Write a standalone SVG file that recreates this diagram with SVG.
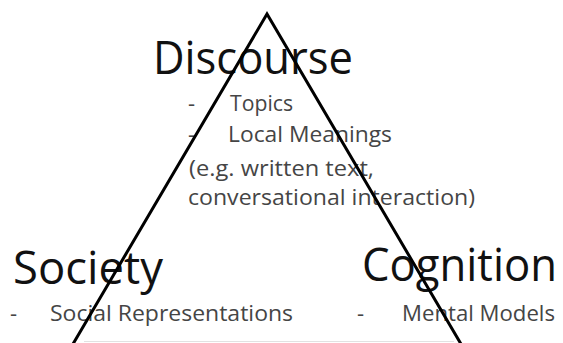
<svg xmlns="http://www.w3.org/2000/svg" width="563" height="343" viewBox="0 0 563 343">
  <style>
    .title { font-family: "Open Sans", "Noto Sans", "Liberation Sans", sans-serif; font-size: 45px; fill: #111; }
    .item { font-family: "Open Sans", "Noto Sans", "Liberation Sans", sans-serif; font-size: 22px; fill: #454545; }
    .edge { fill: none; stroke: #000; stroke-width: 3; stroke-linejoin: miter; }
  </style>
  <rect width="563" height="343" fill="#fff"/>

  <g id="discourse">
    <text class="title" x="153" y="74" textLength="200" lengthAdjust="spacingAndGlyphs">Discourse</text>
    <text class="item" x="188" y="111">-</text>
    <text class="item" x="230" y="111" textLength="63" lengthAdjust="spacingAndGlyphs">Topics</text>
    <text class="item" x="188" y="142">-</text>
    <text class="item" x="228" y="142" textLength="164" lengthAdjust="spacingAndGlyphs">Local Meanings</text>
    <text class="item" x="189" y="176" textLength="185" lengthAdjust="spacingAndGlyphs">(e.g. written text,</text>
    <text class="item" x="188" y="205" textLength="287" lengthAdjust="spacingAndGlyphs">conversational interaction)</text>
  </g>

  <g id="society">
    <text class="title" x="13" y="284" textLength="150" lengthAdjust="spacingAndGlyphs">Society</text>
    <text class="item" x="10" y="321">-</text>
    <text class="item" x="50" y="321" textLength="243" lengthAdjust="spacingAndGlyphs">Social Representations</text>
  </g>

  <g id="cognition">
    <text class="title" x="362" y="281" textLength="195" lengthAdjust="spacingAndGlyphs">Cognition</text>
    <text class="item" x="357" y="321">-</text>
    <text class="item" x="402" y="321" textLength="153" lengthAdjust="spacingAndGlyphs">Mental Models</text>
  </g>

  <g id="connectors">
    <polyline class="edge" points="73,344 267,14 461,344"/>
    <line x1="84" y1="341.5" x2="454" y2="341.5" stroke="#e2e2e2" stroke-width="1"/>
  </g>
</svg>
